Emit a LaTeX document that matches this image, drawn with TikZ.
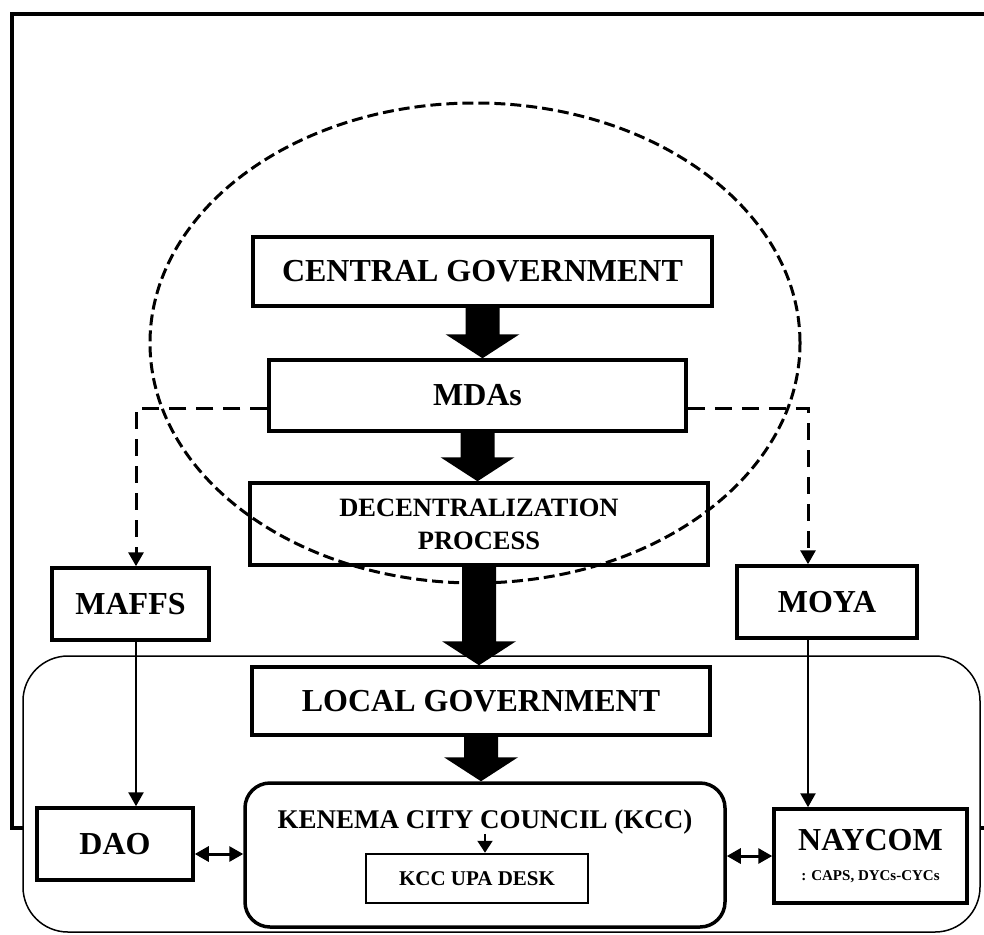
\documentclass[tikz,border=0pt]{standalone}
\usepackage{fontspec}
\setmainfont{Liberation Serif}
\usetikzlibrary{calc,arrows.meta}
\newcommand{\fatarrow}[2]{%
    \fill let \p1=(#1.south),\p2=(#2.north) in
    (\x1-17pt,\y1)--(\x1+17pt,\y1)--(\x1+17pt,\y2+24pt)--(\x1+37pt,\y2+24pt)
    --(\x1,\y2)--(\x1-37pt,\y2+24pt)--(\x1-17pt,\y2+24pt)--cycle;}

\begin{document}
\begin{tikzpicture}[x=1pt,y=-1pt,>={Triangle[width=15pt,length=14pt]},
    box/.style={draw,line width=3.5pt,inner sep=0,align=center,font=\fontsize{32}{36}\selectfont\bfseries},
    dashline/.style={line width=3pt,dash pattern=on 17pt off 10pt},
    link/.style={->,line width=2.5pt}]
    \useasboundingbox(0,0)rectangle(984,934);
    % frame and local government zone
    \draw[line width=4pt](1000,14)--(12,14)--(12,828)--(1000,828);
    \draw[line width=1.5pt,rounded corners=45pt,fill=white](23,656)rectangle(980,932);
    \draw[line width=3pt,dash pattern=on 11pt off 5pt](475,343)ellipse[x radius=325pt,y radius=240pt];
    % boxes
    \node[box,minimum width=459pt,minimum height=69pt](cg)at(482.5,271.5){CENTRAL GOVERNMENT};
    \node[box,minimum width=417pt,minimum height=71pt](mda)at(477.5,395.5){MDAs};
    \node[box,minimum width=458pt,minimum height=82pt,font=\fontsize{26.5}{33}\selectfont\bfseries](dec)at(479,524){DECENTRALIZATION\\PROCESS};
    \node[box,minimum width=157pt,minimum height=72pt](maffs)at(130.5,604){MAFFS};
    \node[box,minimum width=180pt,minimum height=72pt](moya)at(827,602){MOYA};
    \node[box,minimum width=458pt,minimum height=68pt](lg)at(481,701){LOCAL GOVERNMENT};
    \node[box,rounded corners=25pt,minimum width=480pt,minimum height=144pt](kcc)at(485,855){};
    \node[anchor=base,inner sep=0,font=\fontsize{27}{30}\selectfont\bfseries](kcctxt)at(485,828){KENEMA CITY COUNCIL (KCC)};
    \node[box,line width=2.5pt,minimum width=222pt,minimum height=49pt,font=\fontsize{21}{24}\selectfont\bfseries](upa)at(477,878.5){KCC UPA DESK};
    \node[box,minimum width=156pt,minimum height=72pt](dao)at(115,844){DAO};
    \node[box,minimum width=193pt,minimum height=94pt](naycom)at(870.5,856){NAYCOM\\[-6pt]{\fontsize{15}{18}\selectfont : CAPS, DYCs-CYCs}};
    % connectors
    \draw[dashline,->]([yshift=-13pt]mda.west)-|([xshift=5.5pt]maffs.north);
    \draw[dashline,->]([yshift=-13pt]mda.east)-|([xshift=-19pt]moya.north);
    \draw[link]([xshift=5.5pt]maffs.south)--([xshift=5.5pt]maffs.south|-dao.north);
    \draw[link]([xshift=-19pt]moya.south)--([xshift=-19pt]moya.south|-naycom.north);
    \draw[<->,line width=3pt]([yshift=-10pt]dao.east)--([yshift=-10pt]dao.east-|kcc.west);
    \draw[<->,line width=3pt](kcc.east|-naycom.west)--(naycom.west);
    \draw[->,line width=2pt,>={Triangle[width=15pt,length=12pt]}](kcctxt.south)--(kcctxt.south|-upa.north);
    \fatarrow{cg}{mda}
    \fatarrow{mda}{dec}
    \fatarrow{dec}{lg}
    \fatarrow{lg}{kcc}
\end{tikzpicture}
\end{document}
